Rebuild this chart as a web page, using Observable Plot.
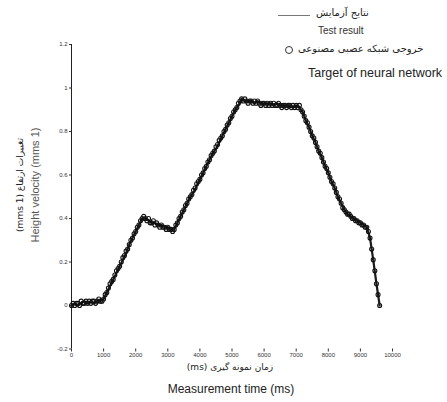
<!DOCTYPE html>
<html>
<head>
<meta charset="utf-8">
<script src="https://cdn.jsdelivr.net/npm/d3@7"></script>
<script src="https://cdn.jsdelivr.net/npm/@observablehq/plot@0.6"></script>
<style>
  html, body { margin: 0; padding: 0; background: #fff; }
  #wrap { position: relative; width: 447px; height: 402px; overflow: hidden;
          font-family: "Liberation Sans", Arial, "DejaVu Sans", sans-serif; color: #222; }
  #wrap svg { position: absolute; left: 0; top: 0; }
  .lbl { position: absolute; white-space: nowrap; line-height: 1; }
  .fa { font-family: "DejaVu Sans", sans-serif; }
</style>
</head>
<body>
<div id="wrap"></div>
<script>
// Sampling interval of the recorded signals (ms)
const testStepMs = 100;
const targetStepMs = 50;

// Measured height velocity (test result), one value every 100 ms from 0 to 9600 ms
const testResult = [
  0.00, 0.01, 0.00, 0.01, 0.02, 0.01, 0.02, 0.01, 0.02, 0.02,
  0.03, 0.06, 0.09, 0.12, 0.15, 0.18, 0.21, 0.24, 0.28, 0.31,
  0.34, 0.37, 0.40, 0.40, 0.39, 0.38, 0.38, 0.37, 0.37, 0.36,
  0.36, 0.35, 0.35, 0.38, 0.41, 0.44, 0.47, 0.50, 0.52, 0.55,
  0.58, 0.61, 0.64, 0.67, 0.70, 0.72, 0.75, 0.78, 0.81, 0.84,
  0.87, 0.90, 0.92, 0.95, 0.94, 0.94, 0.94, 0.93, 0.94, 0.93,
  0.93, 0.93, 0.93, 0.92, 0.93, 0.92, 0.92, 0.92, 0.92, 0.91,
  0.92, 0.91, 0.89, 0.85, 0.82, 0.78, 0.75, 0.71, 0.68, 0.64,
  0.61, 0.57, 0.54, 0.50, 0.47, 0.44, 0.42, 0.41, 0.40, 0.39,
  0.38, 0.37, 0.36, 0.31, 0.21, 0.10, 0.00
];

// Neural network output (target), one value every 50 ms from 0 to 9600 ms
const networkTarget = [
  0.00, 0.01, 0.00, 0.01, 0.01, 0.00, 0.02, 0.01, 0.01, 0.02, 0.01, 0.02, 0.01, 0.02, 0.02, 0.01, 0.02, 0.03, 0.02, 0.02,
  0.03, 0.05, 0.06, 0.08, 0.10, 0.11, 0.12, 0.14, 0.16, 0.17, 0.18, 0.20, 0.22, 0.23, 0.25, 0.26, 0.28, 0.30, 0.31, 0.33,
  0.34, 0.36, 0.37, 0.39, 0.40, 0.41, 0.40, 0.39, 0.40, 0.38, 0.38, 0.39, 0.37, 0.38, 0.37, 0.36, 0.37, 0.36, 0.36, 0.35,
  0.36, 0.35, 0.35, 0.34, 0.35, 0.37, 0.38, 0.40, 0.41, 0.43, 0.44, 0.46, 0.47, 0.49, 0.50, 0.51, 0.53, 0.54, 0.56, 0.57,
  0.58, 0.60, 0.61, 0.63, 0.64, 0.66, 0.67, 0.69, 0.70, 0.71, 0.73, 0.74, 0.76, 0.77, 0.78, 0.80, 0.81, 0.83, 0.84, 0.86,
  0.87, 0.89, 0.90, 0.91, 0.93, 0.94, 0.95, 0.94, 0.95, 0.94, 0.93, 0.94, 0.94, 0.93, 0.94, 0.93, 0.94, 0.93, 0.92, 0.93,
  0.93, 0.92, 0.93, 0.92, 0.93, 0.92, 0.93, 0.92, 0.92, 0.93, 0.92, 0.91, 0.92, 0.92, 0.91, 0.92, 0.92, 0.91, 0.92, 0.91,
  0.92, 0.91, 0.92, 0.90, 0.89, 0.87, 0.85, 0.84, 0.82, 0.80, 0.78, 0.77, 0.75, 0.73, 0.71, 0.70, 0.68, 0.66, 0.64, 0.63,
  0.61, 0.59, 0.57, 0.56, 0.54, 0.52, 0.50, 0.49, 0.47, 0.45, 0.44, 0.43, 0.42, 0.42, 0.41, 0.40, 0.40, 0.39, 0.39, 0.38,
  0.38, 0.37, 0.37, 0.36, 0.36, 0.34, 0.31, 0.26, 0.21, 0.16, 0.10, 0.05, 0.00
];

// Axis ticks
const xTicks = [0, 1000, 2000, 3000, 4000, 5000, 6000, 7000, 8000, 9000, 10000];
const yTicks = [-0.2, 0, 0.2, 0.4, 0.6, 0.8, 1, 1.2];

// Texts
const legendLineFa = "نتایج آزمایش";
const legendLineEn = "Test result";
const legendDotFa = "خروجی شبکه عصبی مصنوعی";
const legendDotEn = "Target of neural network";
const xTitleFa = "زمان نمونه گیری (ms)";
const xTitleEn = "Measurement time (ms)";
const yTitleFa = "تغییرات ارتفاع (mms 1)";
const yTitleEn = "Height velocity (mms 1)";

const testData = testResult.map((v, i) => ({t: i * testStepMs, v}));
const targetData = networkTarget.map((v, i) => ({t: i * targetStepMs, v}));

const chart = Plot.plot({
  width: 447,
  height: 402,
  marginLeft: 71,
  marginRight: 55,
  marginTop: 44,
  marginBottom: 53.5,
  style: {fontSize: "6px", fontFamily: "Liberation Sans, Arial, sans-serif", color: "#333", background: "transparent"},
  x: {domain: [0, 10000], ticks: xTicks, tickSize: 3, tickPadding: 1, label: null, tickFormat: d => String(d)},
  y: {domain: [-0.2, 1.2], ticks: yTicks, tickSize: 2, tickPadding: 2, label: null,
      tickFormat: d => String(+d.toFixed(1))},
  marks: [
    Plot.ruleX([0], {y1: -0.2, y2: 1.2, stroke: "#222", strokeWidth: 1}),
    Plot.line(testData, {x: "t", y: "v", stroke: "#1a1a1a", strokeWidth: 2.2}),
    Plot.dot(targetData, {x: "t", y: "v", r: 2, stroke: "#111", strokeWidth: 1.1, fill: "none"})
  ]
});

const wrap = document.getElementById("wrap");
wrap.appendChild(chart);

function label(text, css, cls = "", dir = null) {
  const d = document.createElement("div");
  d.className = "lbl " + cls;
  d.textContent = text;
  if (dir) d.dir = dir;
  Object.assign(d.style, css);
  wrap.appendChild(d);
  return d;
}

// Legend
const sample = document.createElement("div");
Object.assign(sample.style, {position: "absolute", left: "278px", top: "15px", width: "32px", height: "0", borderTop: "1px solid #777"});
wrap.appendChild(sample);
label(legendLineFa, {left: "316px", top: "8px", fontSize: "10px"}, "fa", "rtl");
label(legendLineEn, {left: "318px", top: "26px", fontSize: "10px", color: "#333"});
const ring = document.createElement("div");
Object.assign(ring.style, {position: "absolute", left: "285px", top: "46px", width: "6px", height: "6px", border: "1px solid #333", borderRadius: "50%"});
wrap.appendChild(ring);
label(legendDotFa, {left: "298px", top: "44px", fontSize: "10px"}, "fa", "rtl");
label(legendDotEn, {left: "308px", top: "67px", fontSize: "12.5px"});

// Axis titles
label(xTitleFa, {left: "230px", top: "363px", fontSize: "9px", transform: "translateX(-50%)"}, "fa", "rtl");
label(xTitleEn, {left: "231px", top: "383px", fontSize: "12px", transform: "translateX(-50%)"});
label(yTitleFa, {left: "20px", top: "185px", fontSize: "9px", transform: "translate(-50%,-50%) rotate(-90deg)"}, "fa", "rtl");
label(yTitleEn, {left: "35px", top: "185px", fontSize: "11px", color: "#555", transform: "translate(-50%,-50%) rotate(-90deg)"});
</script>
</body>
</html>
